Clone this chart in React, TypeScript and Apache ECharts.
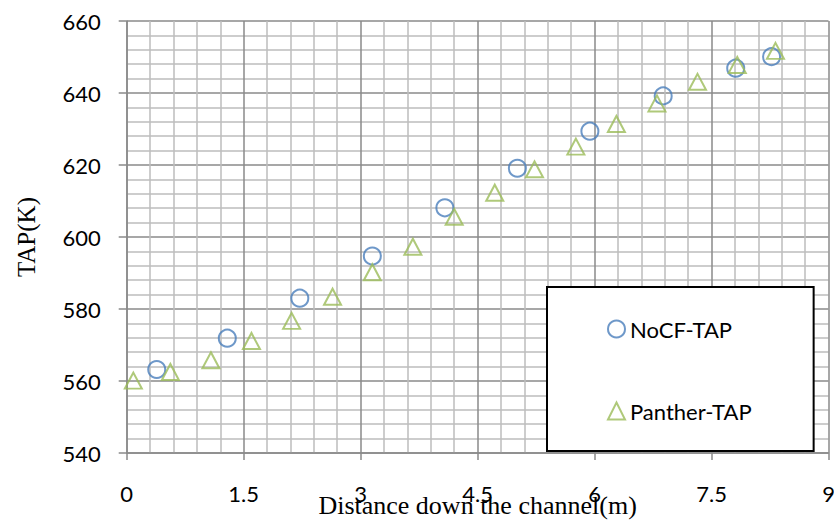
import React, { useEffect, useRef } from "react";
import * as echarts from "echarts";

const noCfX = [0.385, 1.29, 2.22, 3.15, 4.08, 5.01, 5.94, 6.88, 7.81, 8.27];
const noCfY = [563.2, 571.9, 583.0, 594.7, 608.1, 619.1, 629.4, 639.2, 646.9, 650.1];
const pantherX = [0.085, 0.56, 1.08, 1.6, 2.115, 2.64, 3.15, 3.67, 4.2, 4.72, 5.23, 5.76, 6.28, 6.8, 7.32, 7.83, 8.32];
const pantherY = [560.1, 562.5, 565.75, 571.1, 576.7, 583.4, 590.2, 597.3, 605.6, 612.3, 618.8, 625.1, 631.4, 637.1, 643.1, 647.8, 651.7];
const seriesNames = ["NoCF-TAP", "Panther-TAP"];
const xTitle = "Distance down the channel(m)";
const yTitle = "TAP(K)";

const BLUE = "#4A7EBB";
const GREEN = "#9BBB59";
const MAJOR = "#8a8a8a";
const MINOR = "#bdbdbd";
const SANS = "Lato";
const SERIF = "'Liberation Serif', 'Times New Roman', serif";

export default function App() {
  const ref = useRef<HTMLDivElement>(null);
  useEffect(() => {
    if (!ref.current) return;
    const chart = echarts.init(ref.current, undefined, { renderer: "svg" });
    const pair = (xs: number[], ys: number[]) => xs.map((x, i) => [x, ys[i]]);
    chart.setOption({
      animation: false,
      backgroundColor: "#ffffff",
      grid: { left: 126.7, right: 5.5, top: 21, bottom: 69, outerBoundsMode: "none", containLabel: false },
      xAxis: {
        type: "value",
        min: 0,
        max: 9,
        interval: 1.5,
        name: xTitle,
        nameLocation: "middle",
        nameGap: 39,
        nameMoveOverlap: false,
        nameTextStyle: { fontFamily: SERIF, fontSize: 26, color: "#000", verticalAlign: "top", lineHeight: 26 },
        axisLine: { show: true, lineStyle: { color: MAJOR, width: 1.5 } },
        axisTick: { show: true, inside: false, length: 7, lineStyle: { color: MAJOR, width: 1.5 } },
        axisLabel: { fontFamily: SANS, fontSize: 22, color: "#000", margin: 29, lineHeight: 22 },
        splitLine: { show: true, lineStyle: { color: MAJOR, width: 1.5 } },
        minorTick: { show: false, splitNumber: 5 },
        minorSplitLine: { show: true, lineStyle: { color: MINOR, width: 1.5 } },
      },
      yAxis: {
        type: "value",
        min: 540,
        max: 660,
        interval: 20,
        name: yTitle,
        nameLocation: "middle",
        nameGap: 88,
        nameRotate: 90,
        nameMoveOverlap: false,
        nameTextStyle: { fontFamily: SERIF, fontSize: 25, color: "#000" },
        axisLine: { show: true, lineStyle: { color: MAJOR, width: 1.5 } },
        axisTick: { show: true, inside: false, length: 8, lineStyle: { color: MAJOR, width: 1.5 } },
        axisLabel: { fontFamily: SANS, fontSize: 22, color: "#000", margin: 26 },
        splitLine: { show: true, lineStyle: { color: MAJOR, width: 1.5 } },
        minorTick: { show: false, splitNumber: 5 },
        minorSplitLine: { show: true, lineStyle: { color: MINOR, width: 1.5 } },
      },
      legend: {
        orient: "vertical",
        left: 547,
        top: 287,
        backgroundColor: "#ffffff",
        borderColor: "#000000",
        borderWidth: 2,
        borderRadius: 0,
        padding: [31, 62, 29, 60],
        itemGap: 60,
        itemWidth: 17,
        itemHeight: 17,
        textStyle: { fontFamily: SANS, fontSize: 22, color: "#000", lineHeight: 22 },
        data: [
          { name: seriesNames[0], icon: "circle", itemStyle: { color: "rgba(0,0,0,0)", borderColor: BLUE, borderWidth: 2 } },
          { name: seriesNames[1], icon: "triangle", itemStyle: { color: "rgba(0,0,0,0)", borderColor: GREEN, borderWidth: 2 } },
        ],
        z: 10,
      },
      series: [
        {
          name: seriesNames[0],
          type: "scatter",
          symbol: "circle",
          symbolSize: 17,
          itemStyle: { color: "rgba(0,0,0,0)", borderColor: BLUE, borderWidth: 2 },
          data: pair(noCfX, noCfY),
          z: 3,
        },
        {
          name: seriesNames[1],
          type: "scatter",
          symbol: "triangle",
          symbolSize: [17, 16],
          itemStyle: { color: "rgba(0,0,0,0)", borderColor: GREEN, borderWidth: 2 },
          data: pair(pantherX, pantherY),
          z: 4,
        },
      ],
    });
    return () => chart.dispose();
  }, []);
  return <div ref={ref} style={{ width: 834, height: 522, position: "absolute", left: 0, top: 0 }} />;
}
